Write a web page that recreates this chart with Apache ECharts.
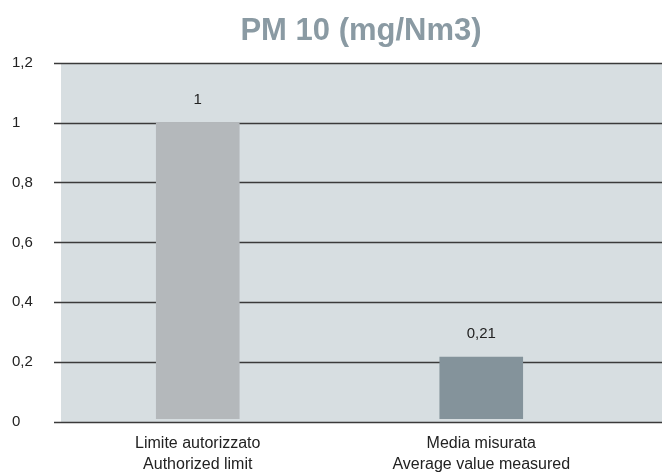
<!DOCTYPE html>
<html>
<head>
<meta charset="utf-8">
<script src="https://cdn.jsdelivr.net/npm/echarts@6/dist/echarts.min.js"></script>
<style>html,body{margin:0;padding:0;background:#fff}#c{width:662px;height:475px}</style>
</head>
<body>
<div id="c"></div>
<script>
const title = 'PM 10 (mg/Nm3)';
const categories = ['Limite autorizzato\nAuthorized limit', 'Media misurata\nAverage value measured'];
const values = [1, 0.21];
const barColors = ['#b4b8bb', '#84939b'];
const yMin = 0, yMax = 1.2, yStep = 0.2;

const fmt = v => String(+v.toFixed(2)).replace('.', ',');
const font = 'Liberation Sans, Arial, sans-serif';

const chart = echarts.init(document.getElementById('c'), null, {renderer: 'canvas'});
const gTop = 63, gBottom = 53;
chart.setOption({
  animation: false,
  title: {
    text: title, left: 356, top: 11, textAlign: 'center',
    textStyle: {fontFamily: font, fontWeight: 'bold', fontSize: 31, color: '#8a9aa3'}
  },
  grid: [
    {left: 54, right: 0, top: gTop, bottom: gBottom},
    {left: 61, right: 0, top: gTop, bottom: gBottom, show: true, backgroundColor: '#d7dee1', borderWidth: 0, z: -5},
    {left: 56, right: 39, top: gTop, bottom: gBottom}
  ],
  xAxis: [
    {gridIndex: 0, type: 'value', show: false},
    {gridIndex: 1, type: 'value', show: false},
    {gridIndex: 2, type: 'category', data: categories,
     axisLine: {show: false}, axisTick: {show: false},
     axisLabel: {margin: 14, fontFamily: font, fontSize: 16, lineHeight: 21, color: '#222', interval: 0}}
  ],
  yAxis: [
    {gridIndex: 0, type: 'value', min: yMin, max: yMax, interval: yStep, z: 1,
     axisLine: {show: false}, axisTick: {show: false},
     axisLabel: {align: 'left', margin: 42, fontFamily: font, fontSize: 15, color: '#222', formatter: fmt},
     splitLine: {show: true, lineStyle: {color: '#3a3a3a', width: 1.3}}},
    {gridIndex: 1, type: 'value', min: yMin, max: yMax, show: false, splitLine: {show: false}},
    {gridIndex: 2, type: 'value', min: yMin, max: yMax, interval: yStep, show: false, splitLine: {show: false}}
  ],
  series: [{
    type: 'bar', xAxisIndex: 2, yAxisIndex: 2, z: 3,
    barWidth: '29.5%',
    data: values.map((v, i) => ({value: v, itemStyle: {color: barColors[i]}})),
    label: {show: true, position: 'top', distance: 15, fontFamily: font, fontSize: 15, color: '#222', formatter: p => fmt(p.value)}
  }]
});
</script>
</body>
</html>
